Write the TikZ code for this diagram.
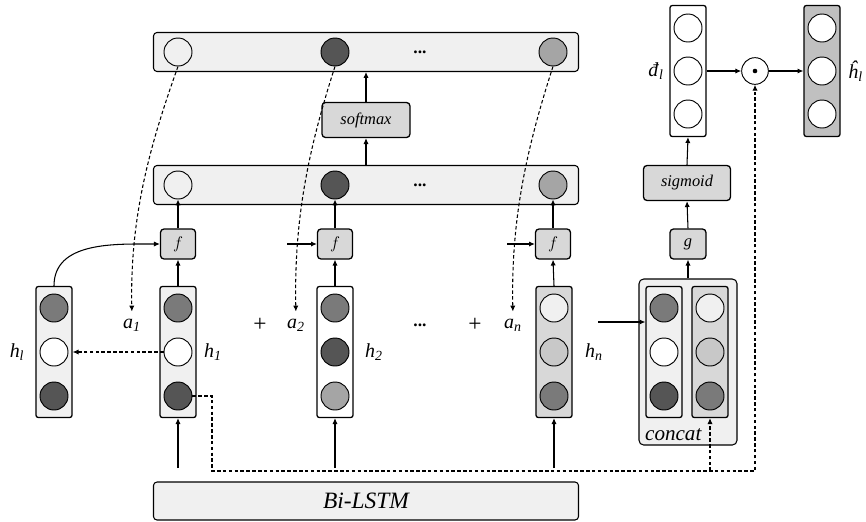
\documentclass[tikz,border=0pt]{standalone}
\usepackage{fontspec}
\setmainfont{Liberation Serif}
\usepackage{amsmath}
\usetikzlibrary{arrows.meta,calc}
\definecolor{BarGray}{RGB}{240,240,240}
\definecolor{BoxGray}{RGB}{216,216,216}
\definecolor{HatGray}{RGB}{192,192,192}
\definecolor{DarkCell}{RGB}{85,85,85}
\definecolor{MidCell}{RGB}{122,122,122}
\definecolor{LightCell}{RGB}{165,165,165}
\definecolor{PaleCell}{RGB}{200,200,200}
\newcommand\sublab[2]{\textit{#1}\textsubscript{\textit{#2}}}

\begin{document}
\begin{tikzpicture}[x=0.03cm,y=-0.03cm,>={Latex[length=5pt,width=4.5pt]},
  cell/.style={circle,draw,line width=0.8pt,minimum size=0.84cm,inner sep=0pt},
  vecbox/.style={draw,line width=1.1pt,rounded corners=2pt,minimum width=1.08cm,minimum height=3.93cm,inner sep=0pt},
  bar/.style={draw,line width=0.9pt,rounded corners=3pt,fill=BarGray,minimum width=12.75cm,minimum height=1.17cm},
  opbox/.style={draw,line width=1.1pt,rounded corners=3pt,fill=BoxGray,inner sep=0pt,font=\fontsize{14}{16}\selectfont\itshape},
  lab/.style={inner sep=1pt,font=\fontsize{17}{19}\selectfont},
  dots/.style={font=\fontsize{15}{17}\selectfont\bfseries},
  conn/.style={->,line width=0.9pt},
  dconn/.style={->,line width=0.9pt,dash pattern=on 3pt off 2pt}]
  \useasboundingbox (0,0) rectangle (866,521);
  % attention rows
  \node[bar] (top) at (366,52) {};
  \node[bar] (mid) at (366,185) {};
  \foreach \r/\y in {t/52,m/185} {
    \node[cell,fill=BarGray] (\r1) at (178,\y) {};
    \node[cell,fill=DarkCell] (\r2) at (335,\y) {};
    \node[cell,fill=LightCell] (\r3) at (553,\y) {};
    \node[dots] (\r dots) at (420,\y) {...};
  }
  \node[opbox,minimum width=2.64cm,minimum height=1.05cm] (softmax) at (366,120) {softmax};
  \foreach \i/\x in {1/178,2/335,3/553}
    \node[opbox,minimum width=1.05cm,minimum height=0.9cm] (f\i) at (\x,244) {$f$};
  % hidden vectors
  \node[draw,line width=0.9pt,rounded corners=4pt,fill=BarGray,minimum width=2.94cm,minimum height=4.98cm] (concat) at (688,362) {};
  \foreach \nm/\x/\bg/\ca/\cb/\cc in {hl/54/BarGray/MidCell/white/DarkCell,
      h1/178/BarGray/MidCell/white/DarkCell, h2/335/white/MidCell/DarkCell/LightCell,
      hn/554/BoxGray/BarGray/PaleCell/MidCell,
      cl/664/BarGray/MidCell/white/DarkCell, cr/710/BoxGray/BarGray/PaleCell/MidCell} {
    \node[vecbox,fill=\bg] (\nm) at (\x,352) {};
    \node[cell,fill=\ca] (\nm-1) at (\x,308) {};
    \node[cell,fill=\cb] (\nm-2) at (\x,352) {};
    \node[cell,fill=\cc] (\nm-3) at (\x,396) {};
  }
  \node[font=\fontsize{18}{20}\selectfont\itshape,anchor=base west] (concatlab) at (641,440) {concat};
  \node[lab] (lhl) at (17,352) {\sublab{h}{l}};
  \node[lab] (lh1) at (213,352) {\sublab{h}{1}};
  \node[lab] (lh2) at (374,352) {\sublab{h}{2}};
  \node[lab] (lhn) at (594,352) {\sublab{h}{n}};
  \node[lab] (a1) at (132,325) {\sublab{a}{1}};
  \node[lab,font=\fontsize{20}{22}\selectfont] (plus1) at (260,325) {+};
  \node[lab] (a2) at (296,325) {\sublab{a}{2}};
  \node[dots] (hdots) at (420,325) {...};
  \node[lab,font=\fontsize{20}{22}\selectfont] (plus2) at (475,325) {+};
  \node[lab] (an) at (513,325) {\sublab{a}{n}};
  \node[bar,minimum height=1.14cm,font=\fontsize{20}{22}\selectfont\itshape] (lstm) at (366,501) {Bi-LSTM};
  % gate
  \node[opbox,minimum width=1.08cm,minimum height=0.9cm] (g) at (688,244) {g};
  \node[opbox,minimum width=2.61cm,minimum height=1.05cm] (sigmoid) at (687,183) {sigmoid};
  \foreach \nm/\x/\bg in {d/688/white,hat/822/HatGray} {
    \node[vecbox,fill=\bg] (\nm) at (\x,71) {};
    \foreach \j/\y in {1/28,2/71,3/114}
      \node[cell,fill=white] (\nm-\j) at (\x,\y) {};
  }
  \node[circle,draw,line width=0.8pt,minimum size=0.8cm,inner sep=0pt] (dot) at (755,71) {};
  \fill (dot.center) circle[radius=2.3];
  \node[lab,anchor=east] (ld) at (665,71) {\sublab{đ}{l}};
  \node[lab,anchor=west,inner sep=0pt] (lhat) at (848,71) {\sublab{ĥ}{l}};
  % connectors
  \draw[conn] (mid.north) -- (softmax.south);
  \draw[conn] (softmax.north) -- (top.south);
  \foreach \i/\h in {1/h1,2/h2,3/hn} {
    \draw[conn] (f\i.north) -- (m\i.south);
    \draw[conn] (\h.north) -- (f\i.south);
    \coordinate (in\i) at ($(\h.south)+(0,50)$);
    \draw[conn] (in\i) -- (\h.south);
  }
  \coordinate (side2) at (287,244);
  \coordinate (side3) at (507,244);
  \draw[conn] (side2) -- (f2.west);
  \draw[conn] (side3) -- (f3.west);
  \draw[conn] (hl.north) to[out=90,in=180] (f1.west);
  \draw[dconn] (h1-2.west) -- (hl.east);
  \draw[dconn,shorten >=5pt] (t1.south) .. controls (148,150) and (130,220) .. (a1.north);
  \draw[dconn,shorten >=5pt] (t2.south) .. controls (308,150) and (294,220) .. (a2.north);
  \draw[dconn,shorten >=5pt] (t3.south) .. controls (526,150) and (511,220) .. (an.north);
  \coordinate (fbl) at (212,471);
  \coordinate (fbr) at (755,471);
  \draw[dconn] (h1-3.east) -| (fbl) -- (fbr) -- (dot.south);
  \draw[dconn] (cr.south |- fbr) -- (cr.south);
  \coordinate (hnout) at (598,322);
  \draw[conn] (hnout) -- (cl.west |- hnout);
  \draw[conn] (concat.north) -- (g.south);
  \draw[conn] (g.north) -- (sigmoid.south);
  \draw[conn] (sigmoid.north) -- (d.south);
  \draw[conn] (d.east) -- (dot.west);
  \draw[conn] (dot.east) -- (hat.west);
\end{tikzpicture}
\end{document}
